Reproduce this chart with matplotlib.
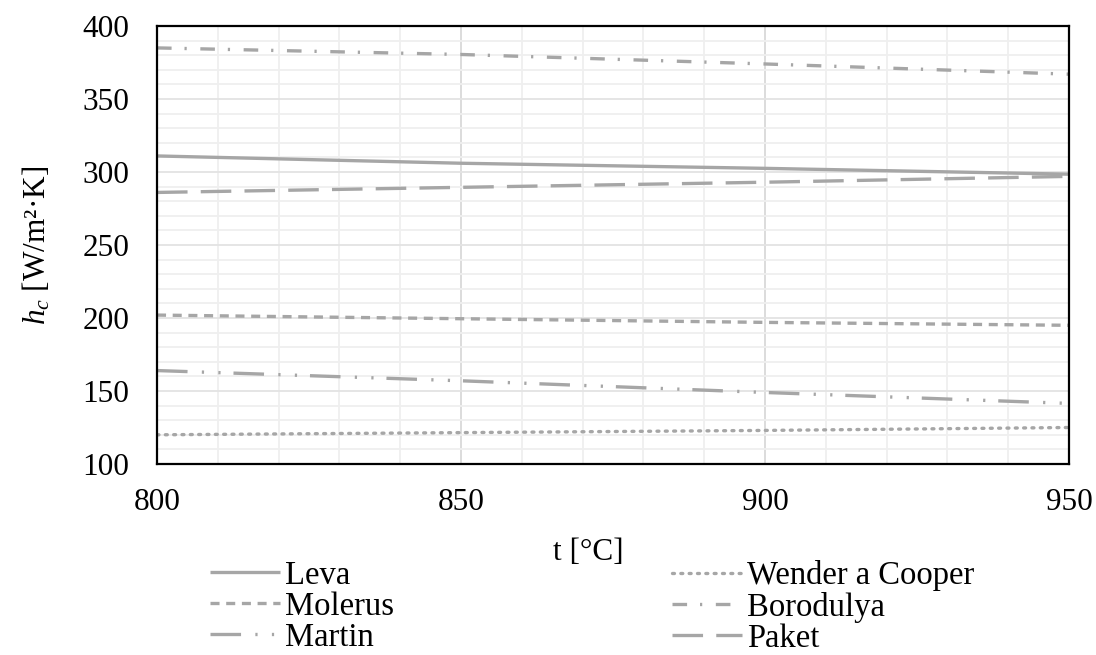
import matplotlib
matplotlib.use("Agg")
import matplotlib.pyplot as plt
from matplotlib.ticker import MultipleLocator
from matplotlib.lines import Line2D

plt.rcParams['font.family'] = ['Liberation Serif', 'DejaVu Serif']
plt.rcParams['mathtext.fontset'] = 'custom'
plt.rcParams['mathtext.rm'] = 'Liberation Serif'
plt.rcParams['mathtext.it'] = 'Liberation Serif:italic'
plt.rcParams['lines.scale_dashes'] = False

# Temperature [°C] and convective heat-transfer coefficient [W/m2K]
t = [800, 850, 900, 950]
leva = [311, 306, 302.5, 298.5]
wender = [120, 121.5, 123, 125]
molerus = [202, 199.5, 197, 195]
borodulya = [385, 380.5, 374, 367]
martin = [164, 157, 149, 141.5]
paket = [286, 289.5, 293, 297]

names = ["Leva", "Wender a Cooper", "Molerus", "Borodulya", "Martin", "Paket"]
x_ticks = [800, 850, 900, 950]
y_ticks = [100, 150, 200, 250, 300, 350, 400]

color = "#a6a6a6"
lw = 2.4
fs = 22.5
fs_leg = 23.5
styles = {
    "Leva": dict(linestyle="-"),
    "Wender a Cooper": dict(dashes=(1.4, 4.6), dash_capstyle="round"),
    "Molerus": dict(dashes=(6.5, 4.8)),
    "Borodulya": dict(dashes=(10.5, 9.3, 1.6, 9.8)),
    "Martin": dict(dashes=(22, 10.3, 1.6, 10.3, 1.6, 9.3)),
    "Paket": dict(dashes=(22, 9.5)),
}
series = [leva, wender, molerus, borodulya, martin, paket]

W, H = 1096, 655
fig = plt.figure(figsize=(W / 100, H / 100), dpi=100)
ax = fig.add_axes([157 / W, 1 - 464 / H, (1069 - 157) / W, (464 - 26) / H])

for name, vals in zip(names, series):
    ax.plot(t, vals, color=color, lw=lw, solid_capstyle="butt", **styles[name], zorder=3)

ax.set_xlim(800, 950)
ax.set_ylim(100, 400)
ax.set_xticks(x_ticks)
ax.set_yticks(y_ticks)
ax.xaxis.set_minor_locator(MultipleLocator(10))
ax.yaxis.set_minor_locator(MultipleLocator(10))
ax.grid(which="minor", color="#efefef", lw=1.3, zorder=0)
ax.grid(which="major", axis="x", color="#d9d9d9", lw=1.3, zorder=1)
ax.grid(which="major", axis="y", color="#e3e3e3", lw=1.3, zorder=1)
ax.tick_params(which="both", length=0, labelsize=fs, colors="black")
ax.tick_params(axis="x", pad=17)
ax.tick_params(axis="y", pad=20)
for s in ax.spines.values():
    s.set_linewidth(1.6)
    s.set_color("black")
    s.set_zorder(5)

fig.text(588 / W, 1 - 553 / H, "t [°C]", ha="center", va="center", fontsize=fs)
fig.text(37 / W, 1 - 245 / H, r"$h_c$ [W/m²·K]", ha="center", va="center",
         rotation=90, fontsize=fs)

handles = {n: Line2D([], [], color=color, lw=lw, solid_capstyle="butt", **styles[n]) for n in names}
left_names = ["Leva", "Molerus", "Martin"]
right_names = ["Wender a Cooper", "Borodulya", "Paket"]
common = dict(frameon=False, fontsize=fs_leg, handlelength=70 * 0.72 / fs_leg, handletextpad=0.15,
              labelspacing=0.02, borderpad=0, borderaxespad=0, loc="upper left")
leg1 = fig.legend([handles[n] for n in left_names], left_names,
                  bbox_to_anchor=(210 / W, 1 - 560 / H), **common)
leg2 = fig.legend([handles[n] for n in right_names], right_names,
                  bbox_to_anchor=(672 / W, 1 - 560 / H), **common)

fig.savefig("out.png", dpi=100)
